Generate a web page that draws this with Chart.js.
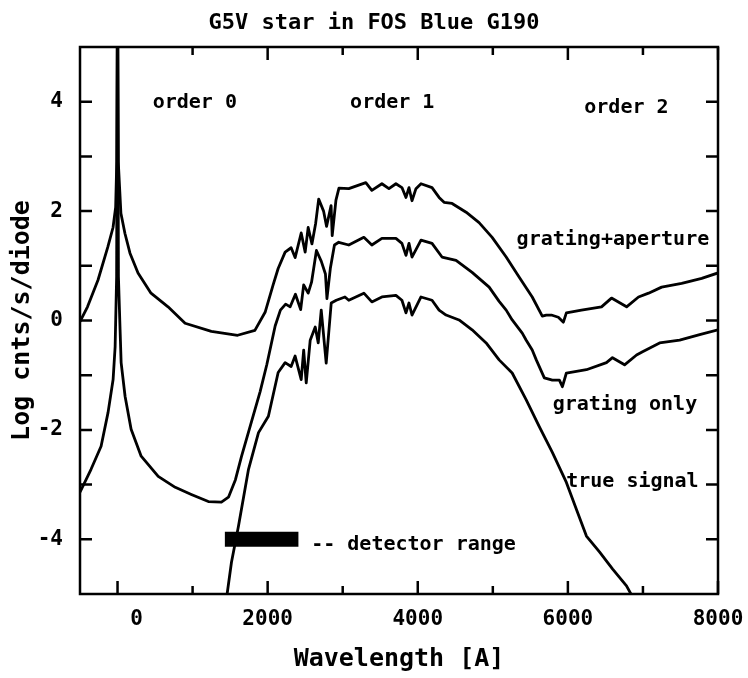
<!DOCTYPE html>
<html>
<head>
<meta charset="utf-8">
<script src="https://cdn.jsdelivr.net/npm/chart.js@4.4.0/dist/chart.umd.min.js"></script>
<style>
  body { margin: 0; background: #fff; }
  canvas { display: block; }
</style>
</head>
<body>
<canvas id="myChart" width="748" height="678"></canvas>
<script>
// values (wavelength in A, log counts)
const apertureWave = [-500, -400, -260, -130, -60, -25, -10, 0, 10, 45, 99, 166, 273, 446, 673, 900, 1250, 1600, 1830, 1966,
  2073, 2140, 2233, 2313, 2366, 2447, 2500, 2540, 2590, 2640, 2680, 2745, 2785, 2845, 2860, 2910, 2950,
  3081, 3308, 3388, 3522, 3616, 3709, 3789, 3843, 3883, 3923, 3976, 4043, 4190, 4284, 4350, 4457, 4644, 4817,
  4991, 5178, 5352, 5525, 5659, 5713, 5780, 5873, 5940, 5980, 6181, 6448, 6581, 6782, 6941, 7075, 7249, 7516, 7783, 8000]
const apertureLog = [-0.02, 0.25, 0.74, 1.34, 1.70, 2.07, 2.9, 6.5, 2.9, 1.96, 1.59, 1.23, 0.87, 0.50, 0.25, -0.05, -0.2, -0.27, -0.18, 0.15,
  0.65, 0.95, 1.25, 1.33, 1.15, 1.60, 1.25, 1.70, 1.40, 1.78, 2.22, 2.00, 1.72, 2.10, 1.55, 2.20, 2.42,
  2.41, 2.52, 2.38, 2.50, 2.41, 2.50, 2.43, 2.25, 2.43, 2.19, 2.41, 2.50, 2.43, 2.25, 2.16, 2.14, 1.98, 1.79,
  1.52, 1.16, 0.79, 0.43, 0.08, 0.10, 0.10, 0.06, -0.03, 0.14, 0.19, 0.25, 0.41, 0.25, 0.43, 0.50, 0.61, 0.68, 0.77, 0.87]

const gratingWave = [-500, -353, -219, -126, -59, -32, -12, 0, 12, 34, 48, 101, 181, 315, 542, 769, 983, 1210, 1384, 1478,
  1571, 1651, 1785, 1900, 1990, 2100, 2170, 2240, 2300, 2370, 2440, 2480, 2540, 2585, 2650, 2715, 2770, 2790, 2835, 2890, 2947,
  3081, 3282, 3388, 3522, 3709, 3789, 3843, 3883, 3923, 4043, 4190, 4323, 4510, 4724, 4951, 5084, 5178, 5258, 5392, 5445,
  5525, 5579, 5686, 5793, 5887, 5927, 5980, 6247, 6514, 6594, 6755, 6915, 6995, 7222, 7489, 7756, 8000]
const gratingLog = [-3.14, -2.72, -2.30, -1.68, -1.08, -0.48, 0.8, 6.5, 0.8, -0.17, -0.77, -1.39, -1.99, -2.48, -2.85, -3.05, -3.18, -3.31, -3.32, -3.23,
  -2.91, -2.49, -1.85, -1.3, -0.8, -0.1, 0.19, 0.30, 0.25, 0.48, 0.20, 0.65, 0.50, 0.70, 1.28, 1.08, 0.85, 0.40, 0.95, 1.38, 1.43,
  1.38, 1.52, 1.38, 1.50, 1.50, 1.41, 1.19, 1.41, 1.16, 1.47, 1.41, 1.16, 1.10, 0.88, 0.61, 0.35, 0.19, 0.01, -0.23, -0.36,
  -0.54, -0.72, -1.05, -1.09, -1.09, -1.21, -0.96, -0.90, -0.77, -0.68, -0.81, -0.63, -0.57, -0.41, -0.36, -0.26, -0.17]

const trueWave = [1440, 1518, 1611, 1745, 1878, 2010, 2140, 2233, 2313, 2366, 2447, 2480, 2514, 2567, 2634, 2674, 2714, 2780, 2847, 2914,
  3030, 3081, 3282, 3388, 3522, 3709, 3789, 3843, 3883, 3923, 4043, 4190, 4284, 4377, 4550, 4724, 4911, 5084, 5258, 5445,
  5619, 5793, 5980, 6113, 6247, 6421, 6594, 6781, 6900]
const trueLog = [-5.2, -4.42, -3.76, -2.72, -2.05, -1.75, -0.95, -0.77, -0.84, -0.65, -1.08, -0.54, -1.14, -0.36, -0.12, -0.41, 0.19, -0.78, 0.32, 0.37,
  0.43, 0.37, 0.50, 0.34, 0.43, 0.46, 0.37, 0.14, 0.32, 0.10, 0.43, 0.37, 0.19, 0.10, 0.01, -0.17, -0.41, -0.72, -0.96, -1.45,
  -1.94, -2.41, -2.96, -3.45, -3.94, -4.23, -4.54, -4.85, -5.15]

const detectorWave = [1430, 2410]
const detectorLog = [-4, -4]

const xTickValues = [0, 1000, 2000, 3000, 4000, 5000, 6000, 7000, 8000]
const xTickLabels = ['   0', '', '2000', '', '4000', '', '6000', '', '8000']
const yTickValues = [-4, -3, -2, -1, 0, 1, 2, 3, 4]
const yTickLabels = ['-4', '', '-2', '', '0', '', '2', '', '4']

const notes = [
  { text: 'order 0', x: 1030, y: 3.98, align: 'center' },
  { text: 'order 1', x: 3660, y: 3.98, align: 'center' },
  { text: 'order 2', x: 6780, y: 3.89, align: 'center' },
  { text: 'grating+aperture', x: 6600, y: 1.47, align: 'center' },
  { text: 'grating only', x: 6760, y: -1.55, align: 'center' },
  { text: 'true signal', x: 6860, y: -2.94, align: 'center' },
  { text: '-- detector range', x: 2580, y: -4.1, align: 'left' }
]

const F = "'DejaVu Sans Mono', monospace"

function pts(xs, ys) {
  return xs.map((v, i) => ({ x: v, y: ys[i] }))
}

// frame with inward ticks on all four sides
const frameTicks = {
  id: 'frameTicks',
  afterDatasetsDraw(chart) {
    const ctx = chart.ctx
    const a = chart.chartArea
    const x = chart.scales.x
    const y = chart.scales.y
    ctx.save()
    ctx.strokeStyle = '#000'
    ctx.lineWidth = 2.5
    ctx.strokeRect(a.left, a.top, a.right - a.left, a.bottom - a.top)
    ctx.beginPath()
    x.ticks.forEach(t => {
      let px = x.getPixelForValue(t.value)
      let len = t.value % 2000 === 0 ? 13 : 8
      ctx.moveTo(px, a.bottom); ctx.lineTo(px, a.bottom - len)
      ctx.moveTo(px, a.top); ctx.lineTo(px, a.top + len)
    })
    y.ticks.forEach(t => {
      let py = y.getPixelForValue(t.value)
      ctx.moveTo(a.left, py); ctx.lineTo(a.left + 12, py)
      ctx.moveTo(a.right, py); ctx.lineTo(a.right - 12, py)
    })
    ctx.stroke()
    ctx.restore()
  }
}

const noteText = {
  id: 'noteText',
  afterDatasetsDraw(chart) {
    const ctx = chart.ctx
    const x = chart.scales.x
    const y = chart.scales.y
    ctx.save()
    ctx.fillStyle = '#000'
    ctx.font = 'bold 20px ' + F
    ctx.textBaseline = 'middle'
    notes.forEach(n => {
      ctx.textAlign = n.align
      ctx.fillText(n.text, x.getPixelForValue(n.x), y.getPixelForValue(n.y))
    })
    ctx.restore()
  }
}

const line = { borderColor: '#000', borderWidth: 2.8, pointRadius: 0, tension: 0, fill: false, borderJoinStyle: 'round' }

var ctx = document.getElementById('myChart').getContext('2d')
var chart = new Chart(ctx, {
  type: 'line',
  data: {
    datasets: [
      Object.assign({ label: 'grating+aperture', data: pts(apertureWave, apertureLog) }, line),
      Object.assign({ label: 'grating only', data: pts(gratingWave, gratingLog) }, line),
      Object.assign({ label: 'true signal', data: pts(trueWave, trueLog) }, line),
      { label: 'detector range', data: pts(detectorWave, detectorLog), borderColor: '#000', borderWidth: 15, borderCapStyle: 'butt', pointRadius: 0 }
    ]
  },
  options: {
    responsive: false,
    animation: false,
    layout: { padding: 0 },
    plugins: {
      legend: { display: false },
      tooltip: { enabled: false },
      title: {
        display: true,
        text: 'G5V star in FOS Blue G190',
        color: '#000',
        font: { family: F, size: 22, weight: 'bold', lineHeight: 1 },
        padding: { top: 12, bottom: 13 }
      }
    },
    scales: {
      x: {
        type: 'linear',
        min: -500,
        max: 8000,
        grid: { display: false, drawTicks: false },
        border: { display: false },
        afterFit: s => { s.height = 84; s.paddingRight = 30; s.paddingLeft = 0 },
        afterBuildTicks: s => { s.ticks = xTickValues.map(v => ({ value: v })) },
        ticks: {
          autoSkip: false,
          maxRotation: 0,
          padding: 13,
          color: '#000',
          font: { family: F, size: 21, weight: 'bold' },
          callback: v => xTickLabels[xTickValues.indexOf(v)]
        },
        title: {
          display: true,
          text: 'Wavelength [A]',
          color: '#000',
          font: { family: F, size: 25, weight: 'bold', lineHeight: 1 },
          padding: { top: 0, bottom: 6 }
        }
      },
      y: {
        min: -5,
        max: 5,
        grid: { display: false, drawTicks: false },
        border: { display: false },
        afterFit: s => { s.width = 80 },
        afterBuildTicks: s => { s.ticks = yTickValues.map(v => ({ value: v })) },
        ticks: {
          autoSkip: false,
          padding: 17,
          color: '#000',
          font: { family: F, size: 21, weight: 'bold' },
          callback: v => yTickLabels[yTickValues.indexOf(v)]
        },
        title: {
          display: true,
          text: 'Log cnts/s/diode',
          color: '#000',
          font: { family: F, size: 25, weight: 'bold', lineHeight: 1 },
          padding: { top: 10, bottom: 0 }
        }
      }
    }
  },
  plugins: [frameTicks, noteText]
})
</script>
</body>
</html>
